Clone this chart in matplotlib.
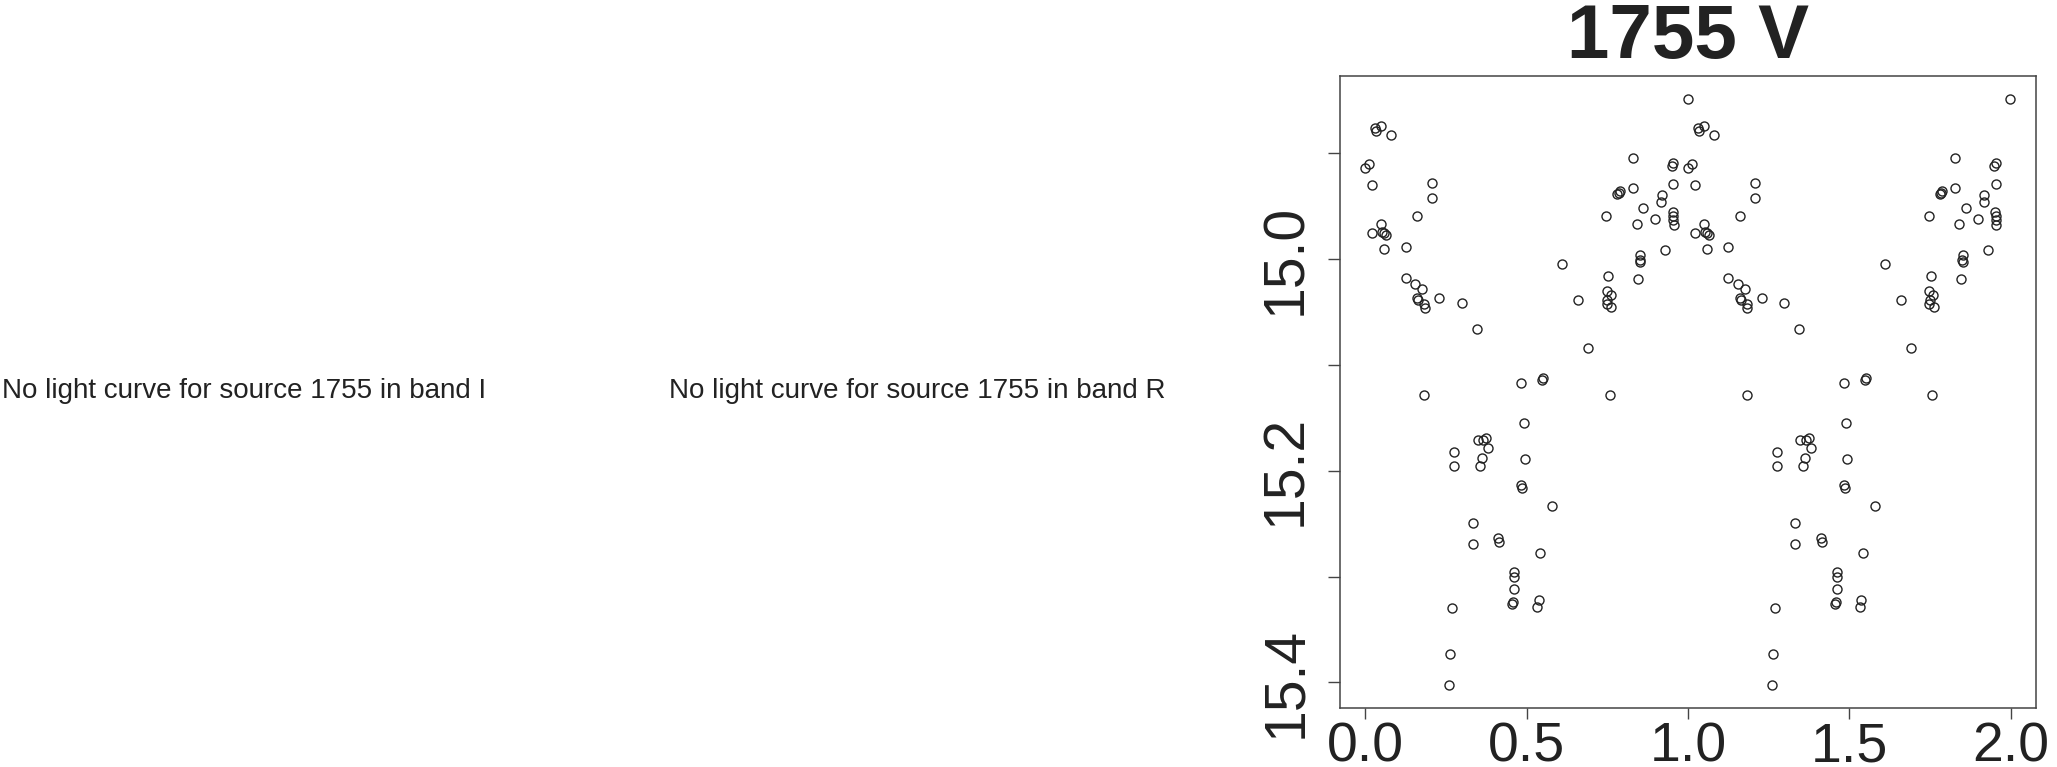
import numpy as np
import matplotlib
matplotlib.use("Agg")
import matplotlib.pyplot as plt

plt.rcParams['font.family'] = ['Liberation Sans', 'DejaVu Sans']

# phase-folded V band light curve of source 1755
phase = [0.000, 0.011, 0.022, 0.022, 0.031, 0.034, 0.049, 0.080, 0.050, 0.053,
         0.059, 0.065, 0.059, 0.125, 0.125, 0.155, 0.160, 0.161, 0.164, 0.177,
         0.182, 0.184, 0.182, 0.207, 0.207, 0.228, 0.299, 0.345, 0.275, 0.275,
         0.269, 0.264, 0.259, 0.333, 0.333, 0.348, 0.362, 0.356, 0.366, 0.374,
         0.380, 0.411, 0.414, 0.462, 0.462, 0.461, 0.458, 0.456, 0.483, 0.491,
         0.494, 0.483, 0.486, 0.537, 0.533, 0.542, 0.548, 0.551, 0.579, 0.611,
         0.659, 0.691, 0.746, 0.752, 0.748, 0.760, 0.750, 0.748, 0.762, 0.757,
         0.780, 0.785, 0.788, 0.829, 0.829, 0.841, 0.852, 0.850, 0.851, 0.846,
         0.862, 0.899, 0.918, 0.917, 0.929, 0.949, 0.954, 0.954, 0.953, 0.954,
         0.955, 0.956, 0.9987]
mag = [14.914, 14.910, 14.930, 14.975, 14.876, 14.879, 14.874, 14.883, 14.967, 14.974,
       14.975, 14.977, 14.990, 14.988, 15.018, 15.023, 14.959, 15.037, 15.039, 15.028,
       15.042, 15.046, 15.128, 14.928, 14.942, 15.037, 15.041, 15.066, 15.182, 15.195,
       15.330, 15.373, 15.402, 15.249, 15.269, 15.171, 15.188, 15.195, 15.171, 15.169,
       15.178, 15.263, 15.267, 15.296, 15.300, 15.312, 15.324, 15.326, 15.117, 15.155,
       15.189, 15.213, 15.216, 15.322, 15.329, 15.278, 15.114, 15.112, 15.233, 15.005,
       15.039, 15.084, 14.959, 15.016, 15.030, 15.034, 15.039, 15.042, 15.045, 15.128,
       14.938, 14.937, 14.936, 14.904, 14.933, 14.967, 14.996, 15.001, 15.003, 15.019,
       14.952, 14.962, 14.939, 14.946, 14.991, 14.912, 14.909, 14.929, 14.955, 14.959,
       14.963, 14.968, 14.849]

source = "1755"
band = "V"
missing_bands = ["I", "R"]

x_ticks = [0.0, 0.5, 1.0, 1.5, 2.0]
y_ticks = [14.9, 15.0, 15.1, 15.2, 15.3, 15.4]
y_labels = ["", "15.0", "", "15.2", "", "15.4"]

ink = "#222222"

fig = plt.figure(figsize=(20.57, 7.67), dpi=100)

# two empty panels only carry a message
msg_x = [0.001, 0.325]
for b, xx in zip(missing_bands, msg_x):
    fig.text(xx, 0.481, "No light curve for source %s in band %s" % (source, b),
             fontsize=20, color=ink, ha="left", va="baseline")

ax = fig.add_axes([0.6512, 0.0769, 0.3386, 0.8240])

x = np.concatenate([phase, np.array(phase) + 1])
y = np.concatenate([mag, mag])
ax.plot(x, y, linestyle="none", marker="o", markersize=6.5,
        markerfacecolor="none", markeredgecolor=ink, markeredgewidth=1.0)

# R style 4% padding around the data
xr = x.max() - x.min()
yr = y.max() - y.min()
ax.set_xlim(x.min() - 0.04 * xr, x.max() + 0.04 * xr)
ax.set_ylim(y.max() + 0.04 * yr, y.min() - 0.04 * yr)

ax.set_xticks(x_ticks)
ax.set_xticklabels(["%.1f" % t for t in x_ticks])
ax.set_yticks(y_ticks)
ax.set_yticklabels(y_labels)

ax.tick_params(axis="x", length=8, width=1.0, color="#444444", labelsize=40,
               labelcolor=ink, pad=1.5)
ax.tick_params(axis="y", length=8.5, width=1.0, color="#444444", labelsize=41,
               labelcolor=ink, pad=10.5)
for lbl in ax.get_yticklabels():
    lbl.set_rotation(90)
    lbl.set_va("center")

for s in ax.spines.values():
    s.set_color("#444444")
    s.set_linewidth(1.1)

ax.set_title("%s %s" % (source, band), fontsize=55, fontweight="bold",
             color=ink, pad=13)

fig.savefig("out.png", dpi=100)
